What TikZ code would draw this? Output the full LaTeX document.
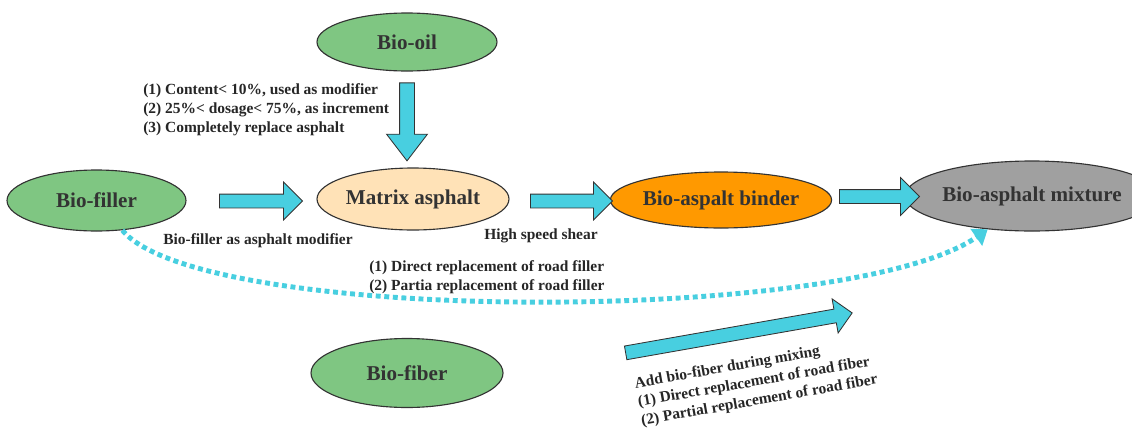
\documentclass[tikz,border=0pt]{standalone}
\usepackage{fontspec}
\setmainfont{Liberation Serif}
\usetikzlibrary{shapes.geometric, shapes.arrows, arrows.meta}

\definecolor{leafgreen}{RGB}{127,198,130}
\definecolor{peach}{RGB}{255,226,183}
\definecolor{binderorange}{RGB}{255,153,0}
\definecolor{mixgray}{RGB}{160,160,160}
\definecolor{flowcyan}{RGB}{72,207,224}

\tikzset{
    item/.style={ellipse, draw=black!80, line width=0.8pt, inner sep=0pt,
        font=\bfseries\fontsize{15}{18}\selectfont, text=black!80},
    flow/.style={single arrow, draw=black!80, fill=flowcyan, line width=0.6pt,
        inner xsep=0pt, inner ysep=1.625mm, single arrow head extend=3mm,
        single arrow tip angle=90},
    note/.style={font=\bfseries\fontsize{11}{13.5}\selectfont, text=black!85,
        align=left, inner sep=0pt}
}

\begin{document}
\begin{tikzpicture}[x=0.25mm, y=-0.25mm]
        \useasboundingbox (0,0) rectangle (1132,437);

        % Materials
        \node[item, fill=leafgreen, minimum width=45mm, minimum height=14.5mm] (oil) at (407,42) {Bio-oil};
        \node[item, fill=leafgreen, minimum width=44.75mm, minimum height=15.25mm] (filler) at (96.5,200.5) {Bio-filler};
        \node[item, fill=peach, minimum width=48mm, minimum height=15.5mm] (matrix) at (413,199) {Matrix asphalt};
        \node[item, fill=binderorange, minimum width=47.75mm, minimum height=14mm] (binder) at (721,200) {Bio-aspalt binder};
        \node[item, fill=mixgray, minimum width=48.75mm, minimum height=17.5mm] (mixture) at (1032,196) {Bio-asphalt mixture};
        \node[item, fill=leafgreen, minimum width=48mm, minimum height=17.25mm] (fiber) at (407,373) {Bio-fiber};

        % Block arrows
        \node[flow, rotate=-90, minimum height=19.5mm, inner ysep=1.75mm, single arrow head extend=3.25mm, single arrow tip angle=75] (oilin) at (407,117) {};
        \node[flow, minimum height=20.75mm] (fillerin) at (257.5,201) {};
        \node[flow, minimum height=20.5mm] (shear) at (568,201) {};
        \node[flow, minimum height=20mm] (mixing) at (876,196.5) {};
        \node[flow, rotate=10, minimum height=57.5mm, single arrow head extend=2.6mm] (fiberin) at (735.5,333.5) {};

        % Filler route
        \draw[flowcyan, line width=3.5pt, dash pattern=on 3.5pt off 2.6pt,
            -{Triangle[width=5mm, length=3.5mm]}]
            (filler.-49) .. controls (200,325) and (850,325) .. (mixture.-143);

        % Notes
        \node[note, anchor=west] (oilnote) at (143,110) {(1) Content< 10\%, used as modifier\\(2) 25\%< dosage< 75\%, as increment\\(3) Completely replace asphalt};
        \node[note, anchor=west] (fillernote) at (163,241) {Bio-filler as asphalt modifier};
        \node[note, anchor=west] (shearnote) at (484,236) {High speed shear};
        \node[note, anchor=west] (routenote) at (369,277.5) {(1) Direct replacement of road filler\\(2) Partia replacement of road filler};
        \node[note, anchor=west, rotate=10] (fibernote) at (638,403) {Add bio-fiber during mixing\\(1) Direct replacement of road fiber\\(2) Partial replacement of road fiber};

\end{tikzpicture}
\end{document}
